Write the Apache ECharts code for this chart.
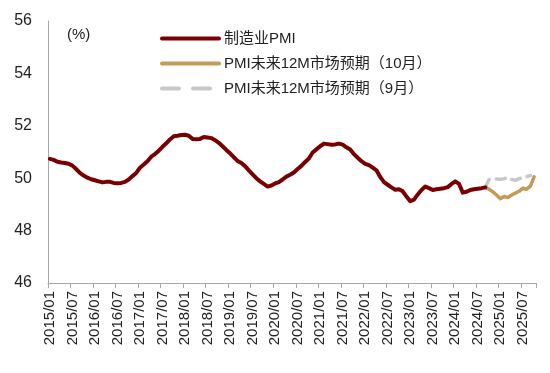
<!DOCTYPE html>
<html>
<head>
<meta charset="utf-8">
<script src="https://cdn.jsdelivr.net/npm/echarts@6/dist/echarts.min.js"></script>
<style>html,body{margin:0;padding:0;background:#fff;}#c{width:550px;height:373px;}</style>
</head>
<body>
<div id="c"></div>
<script>
// Categories: monthly 2015/01 .. 2025/10
const categories = [];
for (let y = 2015; y <= 2025; y++) {
  for (let m = 1; m <= 12; m++) {
    if (y === 2025 && m > 10) break;
    categories.push(y + '/' + (m < 10 ? '0' + m : '' + m));
  }
}
const seriesNames = ['制造业PMI', 'PMI未来12M市场预期（10月）', 'PMI未来12M市场预期（9月）'];
// 制造业PMI (smoothed), 2015/01 .. 2024/09
const pmiValues = [
  50.74, 50.70, 50.63, 50.60, 50.58, 50.55, 50.48, 50.35, 50.20, 50.10, 50.02, 49.96,
  49.92, 49.88, 49.84, 49.86, 49.86, 49.82, 49.81, 49.82, 49.86, 49.95, 50.08, 50.20,
  50.40, 50.52, 50.65, 50.82, 50.92, 51.05, 51.20, 51.33, 51.48, 51.60, 51.62, 51.65,
  51.66, 51.62, 51.50, 51.49, 51.50, 51.57, 51.55, 51.53, 51.45, 51.35, 51.22, 51.08,
  50.95, 50.80, 50.66, 50.58, 50.46, 50.30, 50.15, 50.00, 49.88, 49.78, 49.68, 49.72,
  49.80, 49.85, 49.95, 50.06, 50.13, 50.22, 50.35, 50.47, 50.62, 50.75, 50.98, 51.10,
  51.22, 51.32, 51.30, 51.28, 51.29, 51.32, 51.28, 51.18, 51.10, 50.92, 50.78, 50.65,
  50.55, 50.50, 50.40, 50.30, 50.05, 49.85, 49.75, 49.65, 49.56, 49.58, 49.50, 49.30,
  49.12, 49.18, 49.38, 49.55, 49.68, 49.62, 49.55, 49.58, 49.60, 49.62, 49.66, 49.78,
  49.88, 49.78, 49.45, 49.48, 49.55, 49.58, 49.60, 49.62, 49.65
];
// forecast (Oct), starting 2024/09
const octStartIndex = 116;
const octValues = [49.64, 49.58, 49.48, 49.36, 49.22, 49.30, 49.26, 49.36, 49.43, 49.50, 49.62, 49.58, 49.70, 50.05];
// forecast (Sep), starting 2024/09
const sepStartIndex = 116;
const sepValues = [49.65, 49.95, 49.97, 49.97, 49.96, 49.98, 50.02, 49.95, 49.92, 49.98, 50.02, 50.06, 50.10];
const yTicks = { min: 46, max: 56, interval: 2 };

function pad(start, vals) {
  const out = new Array(categories.length).fill(null);
  vals.forEach((v, k) => { out[start + k] = v; });
  return out;
}

const COLORS = ['#780000', '#c49a58', '#c8c8c8'];
const FONT = '"Liberation Sans", Arial, "Noto Sans CJK SC", sans-serif';
const chart = echarts.init(document.getElementById('c'), null, { renderer: 'canvas' });
chart.setOption({
  animation: false,
  backgroundColor: '#ffffff',
  grid: { left: 48, right: 14, top: 21, bottom: 90, containLabel: false },
  title: {
    text: '(%)', left: 62, top: 22,
    textStyle: { fontSize: 15, fontWeight: 'normal', color: '#222', fontFamily: FONT }
  },
  legend: {
    orient: 'vertical', left: 155, top: 26, itemGap: 10,
    itemWidth: 57, itemHeight: 15,
    itemStyle: { opacity: 0 },
    textStyle: { fontSize: 15, color: '#222', fontFamily: FONT },
    data: [
      { name: seriesNames[0], itemStyle: { opacity: 0 }, lineStyle: { width: 4, color: COLORS[0], cap: 'round' } },
      { name: seriesNames[1], itemStyle: { opacity: 0 }, lineStyle: { width: 4, color: COLORS[1], cap: 'round' } },
      { name: seriesNames[2], itemStyle: { opacity: 0 }, lineStyle: { width: 4, color: COLORS[2], type: [17, 14], cap: 'round' } }
    ]
  },
  xAxis: {
    type: 'category', data: categories, boundaryGap: true,
    axisLine: { lineStyle: { color: '#a6a6a6', width: 1 } },
    axisTick: { show: true, interval: 5, length: 5, lineStyle: { color: '#a6a6a6' } },
    axisLabel: { interval: 5, rotate: 90, fontSize: 15, color: '#222', fontFamily: FONT, margin: 8 },
    splitLine: { show: false }
  },
  yAxis: {
    type: 'value', min: yTicks.min, max: yTicks.max, interval: yTicks.interval,
    axisLine: { show: true, lineStyle: { color: '#a6a6a6', width: 1 } },
    axisTick: { show: false },
    axisLabel: { fontSize: 16, color: '#222', fontFamily: FONT, margin: 16 },
    splitLine: { show: false }
  },
  series: [
    { name: seriesNames[0], type: 'line', data: pad(0, pmiValues), symbol: 'none', z: 3,
      lineStyle: { color: COLORS[0], width: 4, cap: 'round', join: 'round' }, itemStyle: { color: COLORS[0] } },
    { name: seriesNames[1], type: 'line', data: pad(octStartIndex, octValues), symbol: 'none', z: 2,
      lineStyle: { color: COLORS[1], width: 3.5, cap: 'round', join: 'round' }, itemStyle: { color: COLORS[1] } },
    { name: seriesNames[2], type: 'line', data: pad(sepStartIndex, sepValues), symbol: 'none', z: 1,
      lineStyle: { color: COLORS[2], width: 3.5, type: [9, 7], cap: 'round', join: 'round' }, itemStyle: { color: COLORS[2] } }
  ]
});
</script>
</body>
</html>
